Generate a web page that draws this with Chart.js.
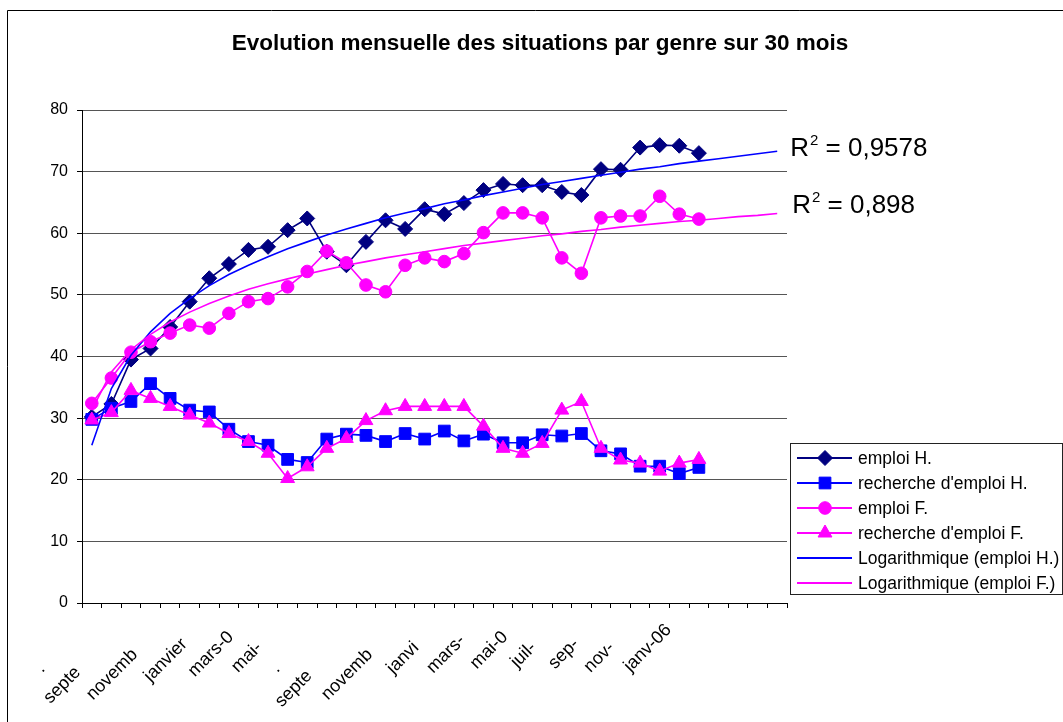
<!DOCTYPE html>
<html>
<head>
<meta charset="utf-8">
<script src="https://cdn.jsdelivr.net/npm/chart.js@4/dist/chart.umd.min.js"></script>
<style>
  html, body { margin: 0; padding: 0; background: #fff; }
  #wrap { width: 1063px; height: 722px; position: relative; }
</style>
</head>
<body>
<div id="wrap"><canvas id="c" width="1063" height="722"></canvas></div>
<script>
// ---- data ----
const categories = ['juil-03','août-03','sept-03','oct-03','nov-03','déc-03','janv-04','févr-04','mars-04','avr-04','mai-04','juin-04',
  'juil-04','août-04','sept-04','oct-04','nov-04','déc-04','janv-05','févr-05','mars-05','avr-05','mai-05','juin-05',
  'juil-05','août-05','sept-05','oct-05','nov-05','déc-05','janv-06','févr-06','mars-06','avr-06','mai-06','juin-06'];
const tickLabels = ['.', 'septe', 'novemb', 'janvier', 'mars-0', 'mai-', '.', 'septe', 'novemb', 'janvi', 'mars-', 'mai-0', 'juil-', 'sep-', 'nov-', 'janv-06'];
const seriesNames = ['emploi H.', "recherche d'emploi H.", 'emploi F.', "recherche d'emploi F.", 'Logarithmique (emploi H.)', 'Logarithmique (emploi F.)'];
const emploiH = [30.2, 32.3, 39.5, 41.3, 44.8, 48.9, 52.7, 55.0, 57.3, 57.8, 60.5, 62.4, 57.0, 54.8, 58.6, 62.1,
  60.7, 63.9, 63.1, 64.9, 67.0, 68.0, 67.8, 67.8, 66.7, 66.2, 70.4, 70.3, 73.9, 74.3, 74.2, 73.0];
const rechercheH = [29.8, 31.6, 32.7, 35.6, 33.2, 31.3, 31.0, 28.2, 26.2, 25.6, 23.3, 22.8, 26.6, 27.4, 27.2, 26.2,
  27.5, 26.6, 27.9, 26.3, 27.4, 26.0, 26.0, 27.3, 27.1, 27.5, 24.7, 24.2, 22.2, 22.2, 21.0, 22.0];
const emploiF = [32.4, 36.5, 40.7, 42.4, 43.8, 45.1, 44.6, 47.0, 48.9, 49.4, 51.3, 53.8, 57.1, 55.2, 51.6, 50.5,
  54.8, 56.0, 55.4, 56.7, 60.1, 63.3, 63.3, 62.5, 56.0, 53.5, 62.5, 62.8, 62.8, 66.0, 63.1, 62.3];
const rechercheF = [29.7, 30.9, 34.5, 33.2, 31.9, 30.5, 29.2, 27.5, 26.2, 24.3, 20.2, 22.1, 25.1, 26.7, 29.6, 31.2,
  31.9, 31.9, 31.9, 31.9, 28.7, 25.1, 24.3, 25.9, 31.3, 32.7, 25.1, 23.2, 22.7, 21.4, 22.7, 23.3];
const trendH = [25.6, 34.8, 40.2, 44.0, 47.0, 49.4, 51.5, 53.3, 54.8, 56.2, 57.5, 58.6, 59.7, 60.7, 61.6, 62.5, 63.3, 64.0,
  64.8, 65.4, 66.1, 66.7, 67.3, 67.9, 68.4, 68.9, 69.4, 69.9, 70.4, 70.8, 71.3, 71.7, 72.1, 72.5, 72.9, 73.3];
const trendF = [31.3, 37.5, 41.1, 43.6, 45.6, 47.2, 48.6, 49.8, 50.9, 51.8, 52.6, 53.4, 54.1, 54.8, 55.4, 56.0, 56.5, 57.0,
  57.5, 58.0, 58.4, 58.8, 59.2, 59.6, 59.9, 60.3, 60.6, 61.0, 61.3, 61.6, 61.9, 62.1, 62.4, 62.7, 62.9, 63.2];
const r2Values = ['0,9578', '0,898'];
const titleText = 'Evolution mensuelle des situations par genre sur 30 mois';

// ---- styling ----
const FONT = '"Liberation Sans", Arial, sans-serif';
Chart.defaults.font.family = FONT;
Chart.defaults.color = '#000';
const NAVY = '#000080', BLUE = '#0000ff', MAG = '#ff00ff';
const tickTrail = [14, 15, 10, 7, 5, 8, 14, 16, 10, 8, 6, 5, 8, 7, 8, 3];

function lineDs(label, data, color, style, radius, order) {
  return {
    label, data, order,
    borderColor: color, backgroundColor: color,
    pointBackgroundColor: color, pointBorderColor: color,
    pointStyle: style, pointRadius: radius, pointBorderWidth: 1,
    borderWidth: 1.6, tension: 0, fill: false
  };
}

const datasets = [
  lineDs(seriesNames[0], emploiH, NAVY, 'rectRot', 7.5, 6),
  lineDs(seriesNames[1], rechercheH, BLUE, 'rect', 8.3, 5),
  lineDs(seriesNames[2], emploiF, MAG, 'circle', 6.3, 4),
  lineDs(seriesNames[3], rechercheF, MAG, 'triangle', 8, 3),
  lineDs(seriesNames[4], trendH, BLUE, 'circle', 0, 2),
  lineDs(seriesNames[5], trendF, MAG, 'circle', 0, 1)
];

const framePlugin = {
  id: 'frame',
  beforeDraw(chart) {
    const ctx = chart.ctx;
    ctx.save();
    ctx.fillStyle = '#fff';
    ctx.fillRect(0, 0, chart.width, chart.height);
    ctx.strokeStyle = '#000';
    ctx.lineWidth = 1;
    ctx.beginPath();
    ctx.moveTo(7.5, chart.height);
    ctx.lineTo(7.5, 10.5);
    ctx.lineTo(chart.width, 10.5);
    ctx.stroke();
    ctx.restore();
  }
};

const r2Plugin = {
  id: 'r2',
  afterDatasetsDraw(chart) {
    const ctx = chart.ctx;
    const offs = [[13, 4.5], [15, -1]];
    [4, 5].forEach((di, k) => {
      const meta = chart.getDatasetMeta(di);
      const pt = meta.data[meta.data.length - 1];
      let x = pt.x + offs[k][0];
      const y = pt.y + offs[k][1];
      ctx.save();
      ctx.fillStyle = '#000';
      ctx.textBaseline = 'alphabetic';
      ctx.textAlign = 'left';
      ctx.font = '26px ' + FONT;
      ctx.fillText('R', x, y);
      x += ctx.measureText('R').width + 1;
      ctx.font = '15px ' + FONT;
      ctx.fillText('2', x, y - 11);
      x += ctx.measureText('2').width;
      ctx.font = '26px ' + FONT;
      ctx.fillText(' = ' + r2Values[k], x, y);
      ctx.restore();
    });
  }
};

const legendPlugin = {
  id: 'boxLegend',
  afterDraw(chart) {
    const ctx = chart.ctx;
    ctx.save();
    const bx = 790.5, by = 443.5, bw = 272, bh = 151;
    ctx.fillStyle = '#fff';
    ctx.fillRect(bx, by, bw, bh);
    ctx.strokeStyle = '#222';
    ctx.lineWidth = 1;
    ctx.strokeRect(bx, by, bw, bh);
    chart.data.datasets.forEach((ds, i) => {
      const y = 458 + i * 25;
      ctx.strokeStyle = ds.borderColor;
      ctx.lineWidth = 2;
      ctx.beginPath();
      ctx.moveTo(797, y);
      ctx.lineTo(852, y);
      ctx.stroke();
      if (ds.pointRadius > 0) {
        ctx.fillStyle = ds.pointBackgroundColor;
        ctx.strokeStyle = ds.pointBorderColor;
        ctx.lineWidth = 1;
        Chart.helpers.drawPoint(ctx, {pointStyle: ds.pointStyle, radius: ds.pointRadius, borderWidth: 1, rotation: 0}, 825, y);
      }
      ctx.fillStyle = '#000';
      ctx.font = '17.5px ' + FONT;
      ctx.textBaseline = 'middle';
      ctx.textAlign = 'left';
      ctx.fillText(ds.label, 858, y + 1);
    });
    ctx.restore();
  }
};

new Chart(document.getElementById('c'), {
  type: 'line',
  data: { labels: categories, datasets },
  plugins: [framePlugin, r2Plugin, legendPlugin],
  options: {
    responsive: false,
    animation: false,
    events: [],
    layout: { padding: { left: 17, right: 0, top: 0, bottom: 0 } },
    plugins: {
      legend: { display: false },
      tooltip: { enabled: false },
      title: {
        display: true,
        text: titleText,
        color: '#000',
        font: { size: 22.5, weight: 'bold', family: FONT, lineHeight: 1.2 },
        padding: { top: 30, bottom: 53 }
      }
    },
    scales: {
      x: {
        type: 'category',
        offset: true,
        grid: { offset: true, drawOnChartArea: false, drawTicks: true, tickLength: 5, color: '#000', tickColor: '#000' },
        border: { display: true, color: '#000', width: 1 },
        ticks: {
          autoSkip: false, minRotation: 45, maxRotation: 45, padding: 1,
          color: '#000', font: { size: 18, family: FONT },
          callback: (v, i) => (i % 2 === 0 && i / 2 < tickLabels.length) ? tickLabels[i / 2] + ' '.repeat(tickTrail[i / 2]) : ''
        },
        afterFit: s => { s.height = 119; }
      },
      y: {
        min: 0, max: 80,
        ticks: { stepSize: 10, color: '#000', font: { size: 16, family: FONT }, padding: 9 },
        grid: { color: '#555', lineWidth: 1, drawTicks: true, tickLength: 5, tickColor: '#000' },
        border: { display: true, color: '#000', width: 1 },
        afterFit: s => { s.width = 65; }
      },
      yRight: {
        type: 'linear', position: 'right', display: true,
        grid: { display: false, drawOnChartArea: false },
        ticks: { display: false },
        border: { display: false },
        afterFit: s => { s.width = 276; }
      }
    }
  }
});
</script>
</body>
</html>
